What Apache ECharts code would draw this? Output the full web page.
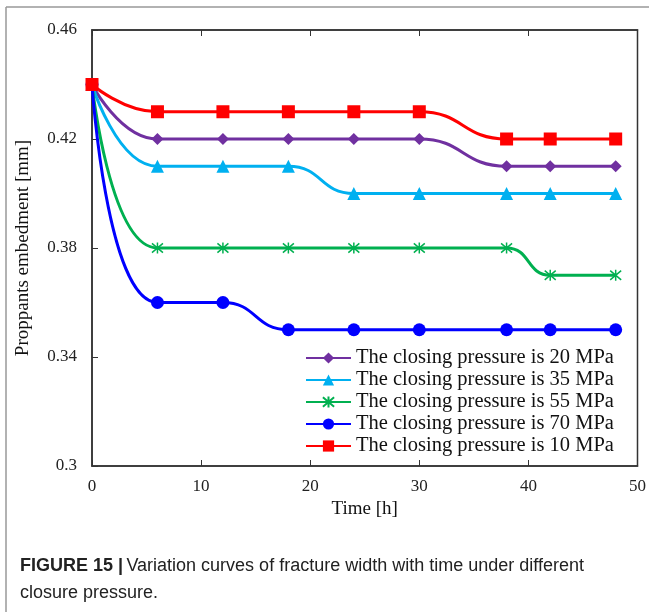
<!DOCTYPE html>
<html>
<head>
<meta charset="utf-8">
<script src="https://cdn.jsdelivr.net/npm/echarts@6/dist/echarts.min.js"></script>
<style>
  html, body { margin: 0; padding: 0; background: #fff; }
  #chart { width: 649px; height: 612px; }
</style>
</head>
<body>
<div id="chart"></div>
<script>
  // time points [h]
  const times = [0, 6, 12, 18, 24, 30, 38, 42, 48];
  // proppant embedment [mm] for each closing pressure
  const p20 = [0.44, 0.42, 0.42, 0.42, 0.42, 0.42, 0.41, 0.41, 0.41];
  const p35 = [0.44, 0.41, 0.41, 0.41, 0.40, 0.40, 0.40, 0.40, 0.40];
  const p55 = [0.44, 0.38, 0.38, 0.38, 0.38, 0.38, 0.38, 0.37, 0.37];
  const p70 = [0.44, 0.36, 0.36, 0.35, 0.35, 0.35, 0.35, 0.35, 0.35];
  const p10 = [0.44, 0.43, 0.43, 0.43, 0.43, 0.43, 0.42, 0.42, 0.42];
  const names = [
    "The closing pressure is 20 MPa",
    "The closing pressure is 35 MPa",
    "The closing pressure is 55 MPa",
    "The closing pressure is 70 MPa",
    "The closing pressure is 10 MPa"
  ];

  const serif = "'Liberation Serif', 'Times New Roman', serif";
  const asterisk = "path://M-1,-1L1,1M-1,1L1,-1M0,-1.2L0,1.2";

  function pairs(vals) {
    return times.map(function (t, i) { return [t, vals[i]]; });
  }

  function line(name, vals, color, symbol, size, extra) {
    let s = {
      name: name,
      type: "line",
      data: pairs(vals),
      smooth: 0.5,
      symbol: symbol,
      symbolSize: size,
      showAllSymbol: true,
      lineStyle: { color: color, width: 3 },
      itemStyle: { color: color }
    };
    return Object.assign(s, extra || {});
  }

  let myChart = echarts.init(document.getElementById("chart"));
  option = {
    backgroundColor: "#fff",
    animation: false,
    grid: {
      left: 92, right: 10, top: 30, bottom: 146,
      show: true, borderColor: "#333", borderWidth: 1.5
    },
    legend: {
      orient: "vertical",
      left: 300, top: 342,
      itemWidth: 45, itemHeight: 14,
      itemGap: 0,
      itemTextGap: 4,
      data: names,
      textStyle: { fontFamily: serif, fontSize: 20.5, lineHeight: 22, color: "#111" }
    },
    xAxis: [{
      type: "value",
      min: 0, max: 50, interval: 10,
      name: "Time [h]",
      nameLocation: "middle",
      nameGap: 34,
      nameTextStyle: { fontFamily: serif, fontSize: 19, color: "#111" },
      splitLine: { show: false },
      axisLine: { lineStyle: { color: "#333", width: 1.5 } },
      axisTick: { inside: true, length: 6, lineStyle: { color: "#333" } },
      axisLabel: { margin: 12, fontFamily: serif, fontSize: 17, color: "#222" }
    }, {
      type: "value",
      position: "top",
      min: 0, max: 50, interval: 10,
      splitLine: { show: false },
      axisLine: { lineStyle: { color: "#333", width: 1.5 } },
      axisTick: { inside: true, length: 6, lineStyle: { color: "#333" } },
      axisLabel: { show: false }
    }],
    yAxis: {
      type: "value",
      min: 0.3, max: 0.46, interval: 0.04,
      name: "Proppants embedment [mm]",
      nameLocation: "middle",
      nameGap: 59,
      nameTextStyle: { fontFamily: serif, fontSize: 19, color: "#111" },
      splitLine: { show: false },
      axisLine: { lineStyle: { color: "#333", width: 1.5 } },
      axisTick: { inside: true, length: 6, lineStyle: { color: "#333" } },
      axisLabel: {
        margin: 15, fontFamily: serif, fontSize: 17, color: "#222",
        formatter: function (v) { return String(Number(v.toFixed(2))); }
      }
    },
    series: [
      line(names[0], p20, "#7030A0", "diamond", 12),
      line(names[1], p35, "#00B0F0", "triangle", 13),
      line(names[2], p55, "#00B050", asterisk, 11, {
        itemStyle: { color: "none", borderColor: "#00B050", borderWidth: 1.5 }
      }),
      line(names[3], p70, "#0000FF", "circle", 13),
      line(names[4], p10, "#FF0000", "rect", 13)
    ],
    graphic: [
      { type: "line", shape: { x1: 6, y1: 7, x2: 649, y2: 7 }, style: { stroke: "#999", lineWidth: 1.5 } },
      { type: "line", shape: { x1: 6, y1: 7, x2: 6, y2: 612 }, style: { stroke: "#999", lineWidth: 1.5 } },
      {
        type: "text", left: 20, top: 553,
        style: {
          rich: {
            b: { fontFamily: "'Liberation Sans Narrow', 'Liberation Sans', sans-serif", fontWeight: "bold", fontSize: 18, fill: "#222" },
            n: { fontFamily: "'Liberation Sans Narrow', 'Liberation Sans', sans-serif", fontSize: 18, fill: "#222" }
          },
          text: "{b|FIGURE 15 |} {n|Variation curves of fracture width with time under different}\n{n|closure pressure.}",
          lineHeight: 27
        }
      }
    ]
  };
  myChart.setOption(option);
</script>
</body>
</html>
